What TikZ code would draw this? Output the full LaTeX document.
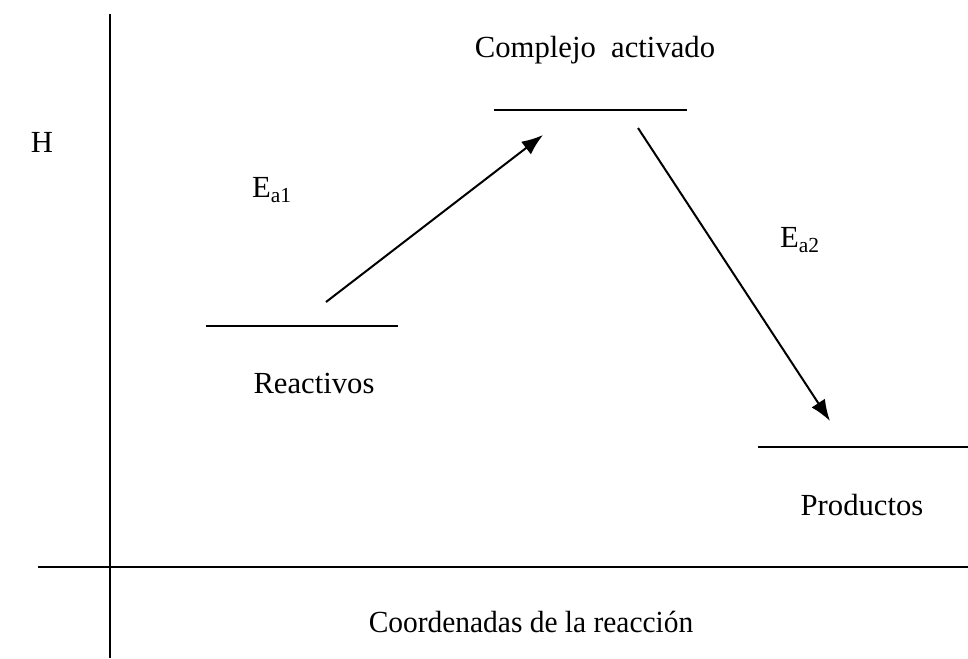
\documentclass[tikz,border=0pt]{standalone}
\usepackage{fontspec}
\setmainfont{Liberation Serif}
\usetikzlibrary{positioning,arrows.meta}
\tikzset{
  level/.style={line width=1.5pt},
  flecha/.style={line width=1.5pt, -{Latex[length=16pt,width=12pt]}},
  lbl/.style={font=\fontsize{23}{27}\selectfont, inner sep=0pt}
}
\begin{document}
\begin{tikzpicture}[x=0.75pt,y=-0.75pt]
			\useasboundingbox (0,0) rectangle (968,658);
			\coordinate (Yt) at (110,14);
			\coordinate (Yb) at (110,658);
			\coordinate (Xl) at (38,567);
			\coordinate (Xr) at (968,567);
			\draw[level] (Yt) -- (Yb);
			\draw[level] (Xl) -- (Xr);
			\node[lbl] (H) at (42,142) {H};
			\node[lbl, xscale=0.96] (coord) at (531,622) {Coordenadas de la reacción};
			% niveles de energia
			\draw[level] (206,326) coordinate (R1) -- (398,326) coordinate (R2);
			\draw[level] (494,110) coordinate (C1) -- (687,110) coordinate (C2);
			\draw[level] (758,447) coordinate (P1) -- (968,447) coordinate (P2);
			\node[lbl] (reac) at (314,383) {Reactivos};
			\node[lbl] (compl) at (595,50) {Complejo\ \ activado};
			\node[lbl] (prod) at (862,505) {Productos};
			\coordinate (A1) at (326,302);
			\coordinate (A2) at (543,135);
			\coordinate (B1) at (638,128);
			\coordinate (B2) at (830,421);
			\draw[flecha] (A1) -- (A2);
			\draw[flecha] (B1) -- (B2);
			\node[lbl] (ea1) at (272,190) {E\textsubscript{a1}};
			\node[lbl] (ea2) at (800,240) {E\textsubscript{a2}};
		\end{tikzpicture}
\end{document}
